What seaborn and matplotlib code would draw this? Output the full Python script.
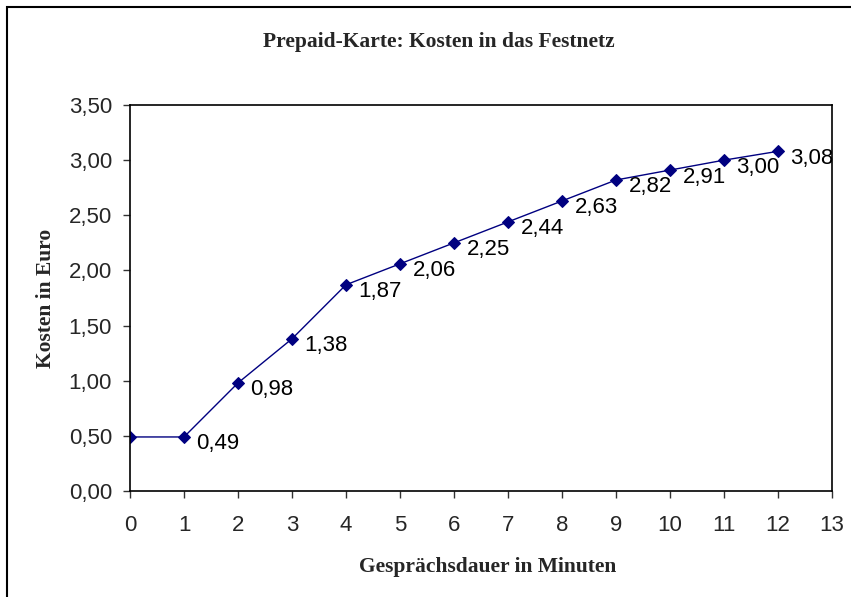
import matplotlib
matplotlib.use("Agg")
import matplotlib.pyplot as plt
from matplotlib.patches import Rectangle
from matplotlib.ticker import FuncFormatter, MultipleLocator
import seaborn as sns
import pandas as pd

# ── Data ──────────────────────────────────────────────────────────────────────
minuten = [0, 1, 2, 3, 4, 5, 6, 7, 8, 9, 10, 11, 12]
kosten = [0.49, 0.49, 0.98, 1.38, 1.87, 2.06, 2.25, 2.44, 2.63, 2.82, 2.91, 3.00, 3.08]

title = "Prepaid-Karte: Kosten in das Festnetz"
xlabel = "Gesprächsdauer in Minuten"
ylabel = "Kosten in Euro"

df = pd.DataFrame({"min": minuten, "euro": kosten})


def de_fmt(v, _pos=None):
    return f"{v:.2f}".replace(".", ",")


sns.set_theme(style="white")
plt.rcParams["font.family"] = ["Liberation Sans", "DejaVu Sans"]

fig = plt.figure(figsize=(8.51, 5.97), dpi=100)
ax = fig.add_axes([130 / 851, 1 - 491 / 597, (832 - 130) / 851, (491 - 105) / 597])

navy = "#000080"
sns.lineplot(data=df, x="min", y="euro", ax=ax, color=navy, linewidth=1.0,
             marker="D", markersize=6, markeredgecolor=navy, markerfacecolor=navy)

# data labels (Excel-style, right of the point), first point has none
for x, y in zip(minuten[1:], kosten[1:]):
    ax.annotate(de_fmt(y), (x, y), xytext=(9, -5), textcoords="offset points",
                ha="left", va="center", fontsize=16, color="black")

ax.set_xlim(0, 13)
ax.set_ylim(0, 3.5)
ax.xaxis.set_major_locator(MultipleLocator(1))
ax.yaxis.set_major_locator(MultipleLocator(0.5))
ax.yaxis.set_major_formatter(FuncFormatter(de_fmt))

ax.tick_params(axis="both", which="major", direction="out", length=5, width=1,
               color="#333333", labelsize=16, bottom=True, left=True)
ax.tick_params(axis="x", pad=12)
ax.tick_params(axis="y", pad=8)

for side in ["top", "right", "left", "bottom"]:
    ax.spines[side].set_visible(True)
    ax.spines[side].set_color("black")
    ax.spines[side].set_linewidth(1.2)

ax.set_xlabel(xlabel, family="Liberation Serif", fontweight="bold",
              fontsize=15.5, labelpad=14)
ax.xaxis.set_label_coords(0.51, -0.17)
ax.set_ylabel(ylabel, family="Liberation Serif", fontweight="bold",
              fontsize=15.5, labelpad=9)
ax.grid(False)

fig.text(439 / 851, 1 - 42 / 597, title, ha="center", va="center",
         family="Liberation Serif", fontweight="bold", fontsize=15.5)

# chart area border (only left and top edges visible in the crop)
fig.patches.append(Rectangle((7 / 851, -0.1), 1.2, 1 - 7 / 597 + 0.1,
                             transform=fig.transFigure, fill=False,
                             edgecolor="black", linewidth=1.5))

fig.savefig("out.png", dpi=100)
